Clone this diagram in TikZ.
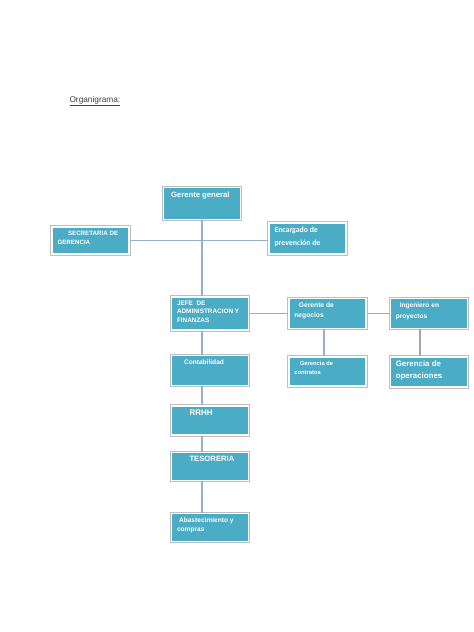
\documentclass[tikz,border=0pt]{standalone}
\usepackage{fontspec}
\setmainfont{Liberation Sans}
\newfontfamily\calibri{Carlito}
\usetikzlibrary{positioning}
\definecolor{cajaazul}{RGB}{75,172,198}
\definecolor{lineazul}{RGB}{150,176,204}
\newcommand{\celda}[2]{\parbox[c][#1pt][t]{66pt}{\raggedright #2}}

\begin{document}
\begin{tikzpicture}[
      x=1pt, y=-1pt,
      caja/.style={fill=cajaazul, draw=white, line width=1.4pt,
                   preaction={draw=gray!50, line width=3.4pt},
                   minimum width=77pt, minimum height=30pt,
                   inner xsep=5.5pt, inner ysep=4pt, text=white},
      linea/.style={draw=lineazul, line width=1.4pt}
    ]
    \useasboundingbox (0,0) rectangle (474,632);
    \node[anchor=west, font=\fontsize{8.3}{10}\selectfont, text=black!75] (titulo) at (66,101) {\underline{Organigrama:}};

    \node[caja, minimum height=32pt, font=\bfseries\fontsize{7.7}{9}\selectfont] (gerente) at (202,203.5)
      {\celda{24}{\hspace*{2pt}Gerente general}};
    \node[caja, minimum height=27pt, font=\bfseries\fontsize{6.2}{9}\selectfont] (secretaria) at (90.5,240.5)
      {\celda{19}{\hspace*{10.5pt}SECRETARIA DE\\GERENCIA}};
    \node[caja, minimum height=31pt, font=\calibri\bfseries\fontsize{7.8}{13}\selectfont] (encargado) at (307.5,238.5)
      {\celda{23}{Encargado de\\prevención de}};

    \node[caja, minimum height=33pt, font=\bfseries\fontsize{6.4}{8.4}\selectfont] (jefe) at (210,313.5)
      {\celda{25}{JEFE~~DE\\ADMINISTRACION Y\\FINANZAS}};
    \node[caja, right=39pt of jefe, font=\bfseries\fontsize{6.7}{10.5}\selectfont] (negocios)
      {\celda{22}{\hspace*{4.5pt}Gerente de\\negocios}};
    \node[caja, right=23pt of negocios, font=\bfseries\fontsize{6.6}{11}\selectfont] (ingeniero)
      {\celda{22}{\hspace*{4pt}Ingeniero en\\proyectos}};

    \node[caja, below=24pt of jefe, font=\bfseries\fontsize{6.6}{9}\selectfont] (conta)
      {\celda{22}{\hspace*{7pt}Contabilidad}};
    \node[caja, below=27pt of negocios, minimum height=29pt, font=\bfseries\fontsize{5.8}{9}\selectfont] (contratos)
      {\celda{21}{\hspace*{5.5pt}Gerencia de\\contratos}};
    \node[caja, below=27pt of ingeniero, font=\bfseries\fontsize{7.9}{12}\selectfont] (operaciones)
      {\celda{22}{Gerencia de\\operaciones}};

    \node[caja, below=19pt of conta, minimum height=29pt, font=\bfseries\fontsize{8}{10}\selectfont] (rrhh)
      {\celda{21}{\hspace*{12.5pt}RRHH}};
    \node[caja, below=16pt of rrhh, minimum height=28pt, font=\bfseries\fontsize{7.7}{10}\selectfont] (tesoreria)
      {\celda{20}{\hspace*{12.5pt}TESORERIA}};
    \node[caja, below=32pt of tesoreria, minimum height=28pt, font=\bfseries\fontsize{6.6}{9}\selectfont] (abastecimiento)
      {\celda{20}{\hspace*{2pt}Abastecimiento y\\compras}};

    \draw[linea] (secretaria.east) -- (secretaria.east -| encargado.west);
    \draw[linea] (gerente.south) -- (gerente.south |- jefe.north);
    \draw[linea] (jefe.east) -- (jefe.east -| negocios.west);
    \draw[linea] (negocios.east) -- (ingeniero.west);
    \draw[linea] (gerente.south |- jefe.south) -- (gerente.south |- conta.north);
    \draw[linea] (gerente.south |- conta.south) -- (gerente.south |- rrhh.north);
    \draw[linea] (gerente.south |- rrhh.south) -- (gerente.south |- tesoreria.north);
    \draw[linea] (gerente.south |- tesoreria.south) -- (gerente.south |- abastecimiento.north);
    \draw[linea] ([xshift=-3.5pt]negocios.south) -- ([xshift=-3.5pt]negocios.south |- contratos.north);
    \draw[linea, draw=gray!70, line width=1.7pt] ([xshift=-8.5pt]ingeniero.south) -- ([xshift=-8.5pt]ingeniero.south |- operaciones.north);
  \end{tikzpicture}
\end{document}
